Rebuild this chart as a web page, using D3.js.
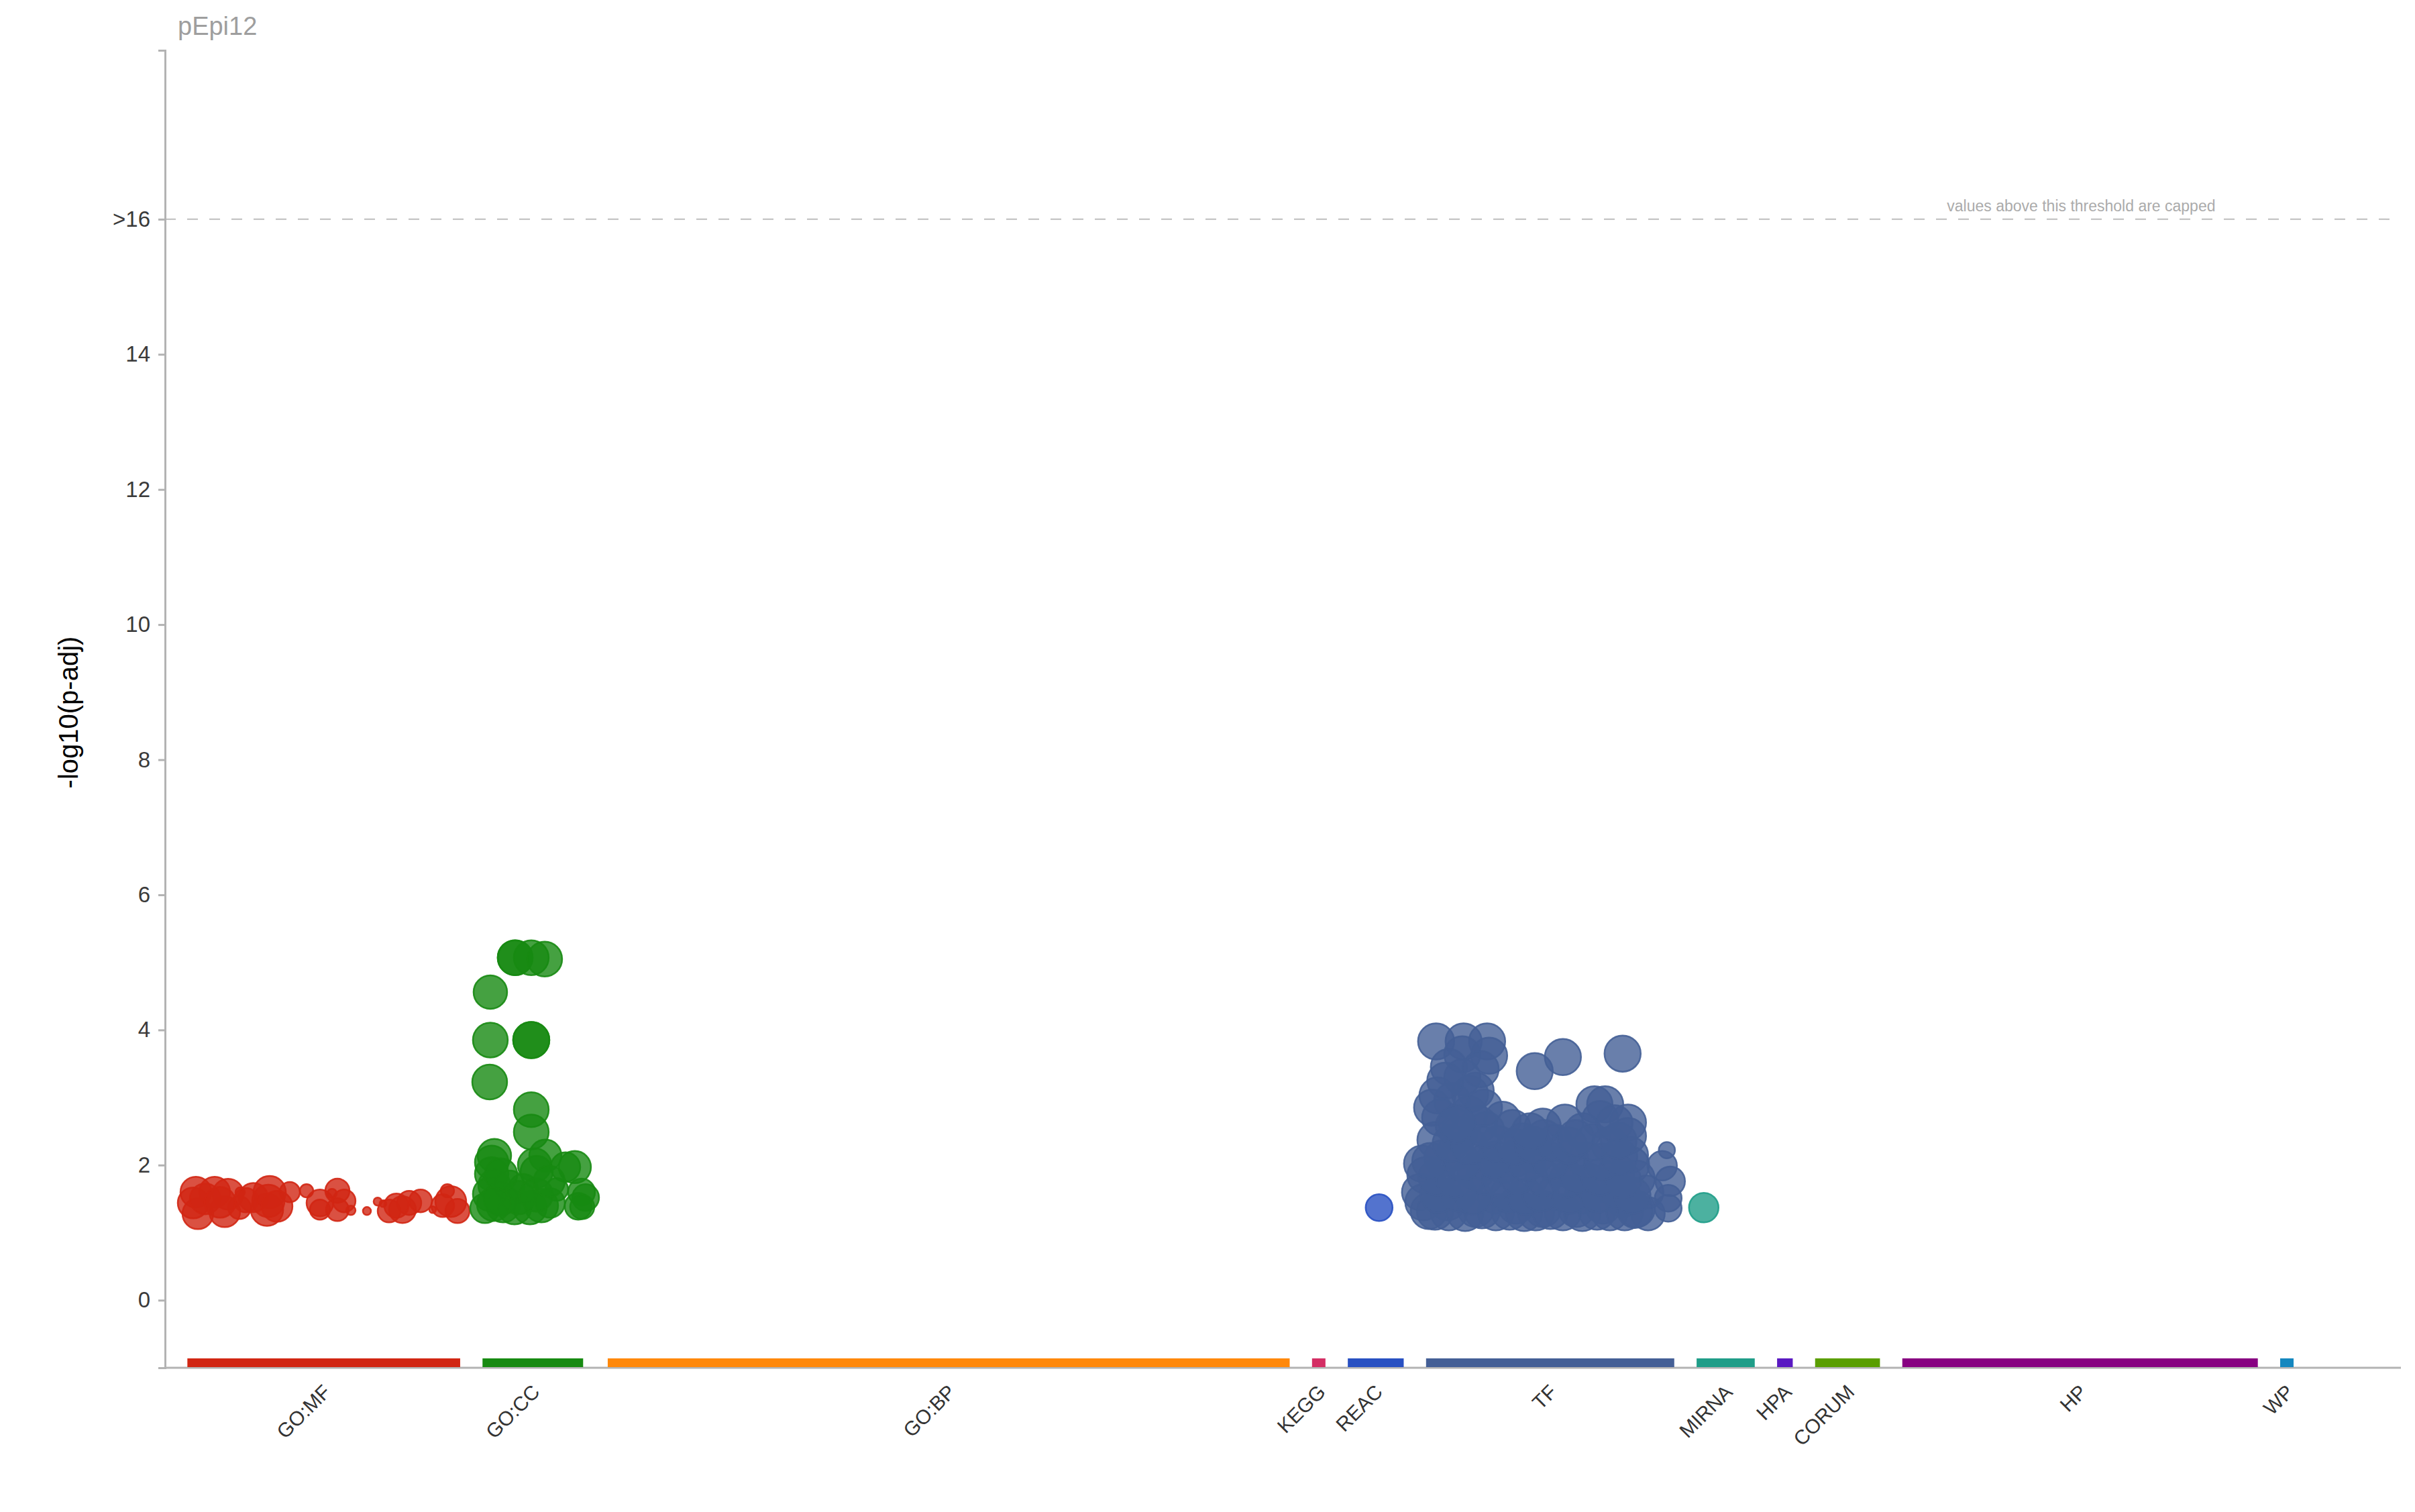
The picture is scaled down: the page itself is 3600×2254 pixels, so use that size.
<!DOCTYPE html>
<html>
<head>
<meta charset="utf-8">
<script src="https://cdn.jsdelivr.net/npm/d3@7"></script>
<style>
  body { margin: 0; background: #fff; }
  text { font-family: "Liberation Sans", Arial, sans-serif; }
</style>
</head>
<body>
<div class="canvas"></div>
<script>
// data sources along the x axis (term index ranges, 0..1000)
const sources = ['GO:MF', 'GO:CC', 'GO:BP', 'KEGG', 'REAC', 'TF', 'MIRNA', 'HPA', 'CORUM', 'HP', 'WP'];
const sourceStart = [10, 142, 198, 513, 529, 564, 685, 721, 738, 777, 946];
const sourceEnd = [132, 187, 503, 519, 554, 675, 711, 728, 767, 936, 952];

// y ticks, 16 is the cap
const yTicks = [0, 2, 4, 6, 8, 10, 12, 14, 16];
const capValue = 16;

// terms: [term index, -log10(p-adj), term size]
const goMfTerms = [
  [13.8, 1.60, 1450], [14.7, 1.28, 1450], [22.2, 1.60, 1450], [12.6, 1.44, 1450],
  [28.2, 1.57, 1450], [26.7, 1.31, 1450], [33.3, 1.37, 790], [33.6, 1.60, 135],
  [46.8, 1.60, 1600], [45.6, 1.34, 1600], [46.2, 1.47, 1600], [55.8, 1.60, 620],
  [63.3, 1.62, 270], [69.3, 1.44, 1100], [69.3, 1.34, 620], [77.1, 1.62, 890],
  [77.1, 1.34, 790], [80.1, 1.47, 790], [74.7, 1.58, 135], [83.1, 1.33, 135],
  [90.3, 1.32, 100], [95.1, 1.46, 100], [97.5, 1.43, 70], [100.2, 1.32, 790],
  [106.2, 1.34, 1100], [109.2, 1.44, 890], [114.3, 1.47, 790], [119.7, 1.34, 70],
  [126.3, 1.62, 270], [127.8, 1.46, 1450], [130.8, 1.32, 890], [124.2, 1.40, 790],
  [18.0, 1.50, 1450], [39.5, 1.52, 1300], [50.1, 1.39, 1450], [36.2, 1.48, 900],
  [24.6, 1.45, 1450], [103.5, 1.40, 900]
];
const goCcTerms = [
  [156.6, 5.07, 1855], [156.6, 5.07, 1855], [163.8, 5.07, 1855], [169.8, 5.05, 1855],
  [145.5, 4.56, 1715], [145.5, 3.85, 1855], [163.8, 3.85, 2000], [163.8, 3.85, 2000],
  [145.2, 3.23, 1855], [163.8, 2.82, 1855], [163.8, 2.49, 1855], [147.3, 2.14, 1715],
  [146.1, 2.04, 1715], [146.1, 1.87, 1715], [147.3, 1.70, 1580], [170.1, 2.14, 1580],
  [165.3, 2.00, 1715], [166.2, 1.90, 1580], [183.3, 1.97, 1580], [179.1, 1.97, 1330],
  [175.2, 1.64, 790], [186.3, 1.60, 1100], [188.1, 1.52, 1100], [184.8, 1.39, 1100],
  [143.1, 1.36, 1330], [151.2, 1.40, 1715], [156.3, 1.37, 1715], [163.2, 1.37, 1715],
  [168.3, 1.40, 1715], [172.2, 1.44, 1330], [145.2, 1.57, 1715], [154.2, 1.70, 1330],
  [160.2, 1.65, 1330], [186.6, 1.38, 890], [150.0, 1.50, 1715], [158.1, 1.52, 1715],
  [166.0, 1.56, 1715], [171.8, 1.76, 1500], [150.3, 1.86, 1600], [147.0, 1.42, 1715]
];
const reacTerms = [[543.0, 1.37, 1100]];
const tfTerms = [
  [568.5, 3.83, 2000], [580.8, 3.83, 2000], [591.3, 3.83, 2000], [580.2, 3.64, 2000],
  [592.2, 3.62, 2000], [612.6, 3.39, 2000], [625.2, 3.60, 2000], [651.9, 3.65, 2000],
  [569.1, 3.03, 2000], [586.2, 3.10, 2000], [580.2, 3.30, 2000], [575.7, 2.95, 2000],
  [570.3, 2.70, 2000], [583.2, 2.75, 2000], [598.2, 2.67, 2000], [602.7, 2.55, 2000],
  [616.2, 2.57, 2000], [626.1, 2.63, 2000], [639.3, 2.90, 2000], [644.1, 2.90, 2000],
  [654.3, 2.63, 2000], [654.3, 2.43, 2000], [568.2, 2.37, 2000], [578.7, 2.45, 2000],
  [589.2, 2.30, 2000], [562.2, 2.02, 2000], [571.2, 2.10, 2000], [607.2, 2.35, 2000],
  [616.8, 2.40, 2000], [634.2, 2.50, 2000], [646.2, 2.30, 2000], [655.2, 2.15, 2000],
  [561.3, 1.60, 2000], [565.2, 1.32, 2000], [573.6, 1.45, 2000], [582.6, 1.80, 2000],
  [586.2, 1.35, 2000], [595.2, 1.55, 2000], [598.2, 2.00, 2000], [604.2, 1.40, 2000],
  [610.2, 1.80, 2000], [616.2, 1.35, 2000], [622.2, 1.60, 2000], [628.2, 2.10, 2000],
  [631.2, 1.35, 2000], [637.2, 1.75, 2000], [643.2, 1.40, 2000], [649.2, 1.90, 2000],
  [652.2, 1.50, 2000], [658.2, 1.35, 2000], [663.3, 1.28, 1700], [658.2, 1.80, 2000],
  [586.2, 1.90, 2000], [604.2, 2.10, 2000], [571.2, 1.65, 2000], [563.7, 1.85, 2000],
  [577.2, 2.20, 2000], [590.7, 2.05, 2000], [613.2, 2.15, 2000], [623.7, 1.95, 2000],
  [634.2, 1.55, 2000], [646.2, 1.70, 2000], [655.7, 2.00, 2000], [662.7, 1.60, 1700],
  [574.2, 3.45, 2000], [566.7, 2.85, 2000], [587.7, 2.60, 2000], [562.8, 1.45, 2000],
  [574.2, 1.30, 2000], [595.2, 1.30, 2000], [613.2, 1.30, 2000], [625.2, 1.30, 2000],
  [646.2, 1.30, 2000], [669.6, 1.99, 1330], [673.2, 1.76, 1330], [672.3, 1.51, 1100],
  [672.3, 1.36, 1100], [671.7, 2.22, 400],
  // dense body of the cluster
  [568.0, 1.31, 2000], [581.5, 1.29, 2000], [589.0, 1.33, 2000], [601.4, 1.31, 2000],
  [607.8, 1.29, 2000], [619.6, 1.32, 2000], [633.9, 1.29, 2000], [640.5, 1.31, 2000],
  [652.8, 1.30, 2000], [657.4, 1.33, 1900], [569.5, 1.56, 2000], [578.3, 1.58, 2000],
  [585.1, 1.54, 2000], [601.0, 1.57, 2000], [608.6, 1.53, 2000], [615.2, 1.58, 2000],
  [628.4, 1.55, 2000], [641.0, 1.57, 2000], [649.9, 1.62, 2000], [656.3, 1.55, 2000],
  [568.7, 1.82, 2000], [576.6, 1.79, 2000], [590.1, 1.83, 2000], [597.2, 1.78, 2000],
  [604.9, 1.84, 2000], [616.5, 1.81, 2000], [627.3, 1.79, 2000], [631.8, 1.85, 2000],
  [641.7, 1.82, 2000], [652.0, 1.78, 2000], [565.9, 2.06, 2000], [580.1, 2.04, 2000],
  [594.6, 2.08, 2000], [609.1, 2.03, 2000], [619.8, 2.06, 2000], [636.0, 2.07, 2000],
  [642.8, 2.05, 2000], [650.4, 2.12, 2000], [575.0, 2.32, 2000], [583.4, 2.28, 2000],
  [596.3, 2.31, 2000], [603.5, 2.27, 2000], [611.9, 2.30, 2000], [621.5, 2.33, 2000],
  [627.8, 2.29, 2000], [638.6, 2.34, 2000], [650.1, 2.36, 2000], [576.4, 2.58, 2000],
  [590.8, 2.52, 2000], [641.9, 2.68, 2000], [648.3, 2.62, 2000], [610.5, 2.50, 2000],
  [631.0, 2.40, 2000], [583.7, 3.05, 2000], [589.9, 2.85, 2000], [572.6, 3.25, 2000],
  [588.4, 3.42, 2000], [577.9, 2.62, 2000]
];
const mirnaTerms = [[688.2, 1.37, 1330]];

const termsBySource = {
  'GO:MF': goMfTerms, 'GO:CC': goCcTerms, 'REAC': reacTerms, 'TF': tfTerms, 'MIRNA': mirnaTerms
};

// colours
const barColor = {
  'GO:MF': '#d12613', 'GO:CC': '#178a12', 'GO:BP': '#ff880a', 'KEGG': '#d42e64',
  'REAC': '#2850c2', 'TF': '#445f96', 'MIRNA': '#1f9d88', 'HPA': '#5a19c2',
  'CORUM': '#5a9e00', 'HP': '#870081', 'WP': '#1587bf'
};

const width = 3600, height = 2254;
const margin = {top: 75, right: 21, bottom: 215, left: 246};

const svg = d3.select('.canvas').append('svg')
    .attr('width', width)
    .attr('height', height);

// scales
const x = d3.scaleLinear().domain([0, 1000]).range([margin.left, width - margin.right]);
const y = d3.scaleLinear().domain([-1, 18.5]).range([height - margin.bottom, margin.top]);
const r = d3.scaleSqrt().domain([0, 2000]).range([0, 27]);

// title
svg.append('text')
    .attr('x', 265).attr('y', 52)
    .attr('font-size', 38)
    .attr('fill', '#9e9e9e')
    .text('pEpi12');

// cap line
svg.append('line')
    .attr('x1', x(0)).attr('x2', x(996))
    .attr('y1', y(capValue)).attr('y2', y(capValue))
    .attr('stroke', '#bdbdbd')
    .attr('stroke-width', 2)
    .attr('stroke-dasharray', '16,17');

svg.append('text')
    .attr('x', x(857)).attr('y', y(capValue) - 12)
    .attr('text-anchor', 'middle')
    .attr('font-size', 23)
    .attr('fill', '#ababab')
    .text('values above this threshold are capped');

// y axis
const yAxisGroup = svg.append('g')
    .attr('transform', `translate(${margin.left}, 0)`)
    .call(d3.axisLeft(y)
        .tickValues(yTicks)
        .tickSize(10)
        .tickPadding(12)
        .tickFormat(d => d === capValue ? '>' + d : d));
yAxisGroup.select('.domain').attr('stroke', '#b3b3b3').attr('stroke-width', 3);
yAxisGroup.selectAll('.tick line').attr('stroke', '#b3b3b3').attr('stroke-width', 3);
yAxisGroup.selectAll('.tick text')
    .attr('font-size', 33)
    .attr('font-family', '"Liberation Sans", Arial, sans-serif')
    .attr('fill', '#3a3a3a');

svg.append('text')
    .attr('transform', `translate(102, ${y(8.7)}) rotate(-90)`)
    .attr('text-anchor', 'middle')
    .attr('dominant-baseline', 'central')
    .attr('font-size', 40)
    .attr('fill', '#000')
    .text('-log10(p-adj)');

// x axis line
svg.append('line')
    .attr('x1', x(0)).attr('x2', x(1000))
    .attr('y1', y(-1)).attr('y2', y(-1))
    .attr('stroke', '#b3b3b3')
    .attr('stroke-width', 3);

// source bars
const barH = 13;
svg.append('g').selectAll('rect')
    .data(sources)
    .join('rect')
    .attr('x', (d, i) => x(sourceStart[i]))
    .attr('width', (d, i) => x(sourceEnd[i]) - x(sourceStart[i]))
    .attr('y', y(-1) - barH - 1)
    .attr('height', barH)
    .attr('fill', d => barColor[d]);

// source labels
svg.append('g').selectAll('text')
    .data(sources)
    .join('text')
    .attr('transform', (d, i) => {
        const cx = x((sourceStart[i] + sourceEnd[i]) / 2) + 12;
        return `translate(${cx}, ${y(-1) + 38}) rotate(-45)`;
    })
    .attr('text-anchor', 'end')
    .attr('font-size', 30)
    .attr('fill', '#333')
    .text(d => d);

// points
const pointGroup = svg.append('g');
sources.forEach(s => {
    const terms = termsBySource[s];
    if (!terms) return;
    pointGroup.append('g').selectAll('circle')
        .data(terms)
        .join('circle')
        .attr('cx', d => x(d[0]))
        .attr('cy', d => y(Math.min(d[1], capValue)))
        .attr('r', d => r(d[2]))
        .attr('fill', barColor[s])
        .attr('fill-opacity', 0.8)
        .attr('stroke', barColor[s])
        .attr('stroke-opacity', 0.9)
        .attr('stroke-width', 2.5);
});
</script>
</body>
</html>
